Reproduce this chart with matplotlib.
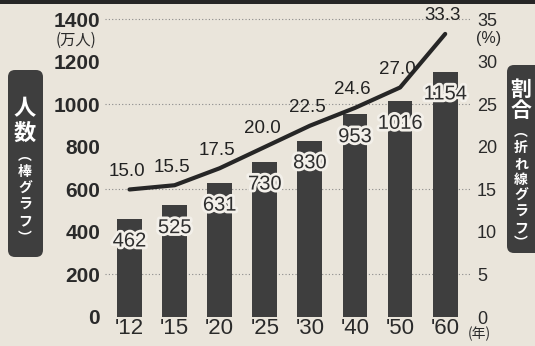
import matplotlib.pyplot as plt
import matplotlib.patheffects as pe
from matplotlib.patches import FancyBboxPatch, Rectangle
from matplotlib.transforms import IdentityTransform

years = ["'12", "'15", "'20", "'25", "'30", "'40", "'50", "'60"]
people = [462, 525, 631, 730, 830, 953, 1016, 1154]        # 万人 (棒グラフ)
ratio = [15.0, 15.5, 17.5, 20.0, 22.5, 24.6, 27.0, 33.3]   # % (折れ線グラフ)
left_ticks = [0, 200, 400, 600, 800, 1000, 1200, 1400]
right_ticks = [0, 5, 10, 15, 20, 25, 30, 35]
grid_vals = [200, 600, 1000, 1400]

W, H = 535, 346
bg = '#eae5db'
dark = '#3e3e3e'
cjk = ['Noto Sans CJK JP', 'DejaVu Sans']
latin = 'Liberation Sans'

fig = plt.figure(figsize=(W / 100, H / 100), dpi=100, facecolor=bg)


def fx(x):
    return x / W


def fy(y):
    return 1 - y / H


ax = fig.add_axes([105 / W, 29 / H, 365 / W, 302 / H])
ax.set_facecolor('none')
xs = range(len(years))
ax.bar(xs, people, width=0.55, color=dark, zorder=2)
for v in grid_vals:
    ax.axhline(v, color='#8a8a8a', lw=0.8, ls=(0, (1, 2)), zorder=1)
ax.set_xlim(-0.543, 7.55)
ax.set_ylim(0, 1421)
ax.set_yticks(left_ticks)
ax.set_yticklabels([str(t) for t in left_ticks], fontsize=15, fontweight='bold',
                   family=latin, color='#2a2a2a')
ax.set_xticks(list(xs))
ax.set_xticklabels(years, fontsize=16, family=latin, color='#2a2a2a')
ax.tick_params(axis='both', length=0)
ax.tick_params(axis='y', pad=3.5)
ax.tick_params(axis='x', pad=1)
for s in ax.spines.values():
    s.set_visible(False)

for i, v in enumerate(people):
    ax.annotate(str(v), (i, v), xytext=(0, -16), textcoords='offset points',
                ha='center', va='center', fontsize=14.5, family=latin, color='#2e2e2e',
                zorder=4,
                path_effects=[pe.withStroke(linewidth=4, foreground='#f3f0ea')])

ax2 = ax.twinx()
ax2.set_ylim(0, 1421 / 40)
ax2.plot(list(xs), ratio, color='#262626', lw=3, solid_joinstyle='round',
         solid_capstyle='round', zorder=3)
for i, r in enumerate(ratio):
    ax2.annotate(f'{r:.1f}', (i, r), xytext=(-2, 13), textcoords='offset points',
                 ha='center', va='center', fontsize=13.5, family=latin, color='#222222')
ax2.set_yticks(right_ticks)
ax2.set_yticklabels([str(t) for t in right_ticks], fontsize=13, family=latin, color='#2a2a2a')
ax2.tick_params(axis='y', length=0, pad=5)
for s in ax2.spines.values():
    s.set_visible(False)

# unit labels
fig.text(fx(76), fy(40), '(万人)', ha='center', va='center', fontsize=11, family=cjk, color='#2a2a2a')
fig.text(fx(489), fy(38), '(%)', ha='center', va='center', fontsize=11.5, family=latin, color='#2a2a2a')
fig.text(fx(479), fy(334), '(年)', ha='center', va='center', fontsize=10, family=cjk, color='#2a2a2a')

# top band
fig.add_artist(Rectangle((0, H - 4), W, 4, transform=IdentityTransform(), color='#262626', lw=0))

# side pills with vertical titles
fig.add_artist(FancyBboxPatch((8, H - 257), 35, 187, boxstyle='round,pad=0,rounding_size=7',
                              transform=IdentityTransform(), color=dark, lw=0))
fig.add_artist(FancyBboxPatch((507, H - 253), 40, 188, boxstyle='round,pad=0,rounding_size=7',
                              transform=IdentityTransform(), color=dark, lw=0))


def vtext(xc, yc, chars, size, spacing):
    fig.text(fx(xc), fy(yc), '\n'.join(chars), ha='center', va='center', ma='center',
             color='white', fontsize=size, fontweight='bold', family=cjk, linespacing=spacing)


vtext(25, 121, '人数', 16, 1.05)
vtext(25, 197, '︵棒グラフ︶', 10, 1.22)
vtext(521, 100, '割合', 15, 1.0)
vtext(521, 188, '︵折れ線グラフ︶', 10, 1.18)

fig.savefig('out.png', dpi=100, facecolor=bg)
